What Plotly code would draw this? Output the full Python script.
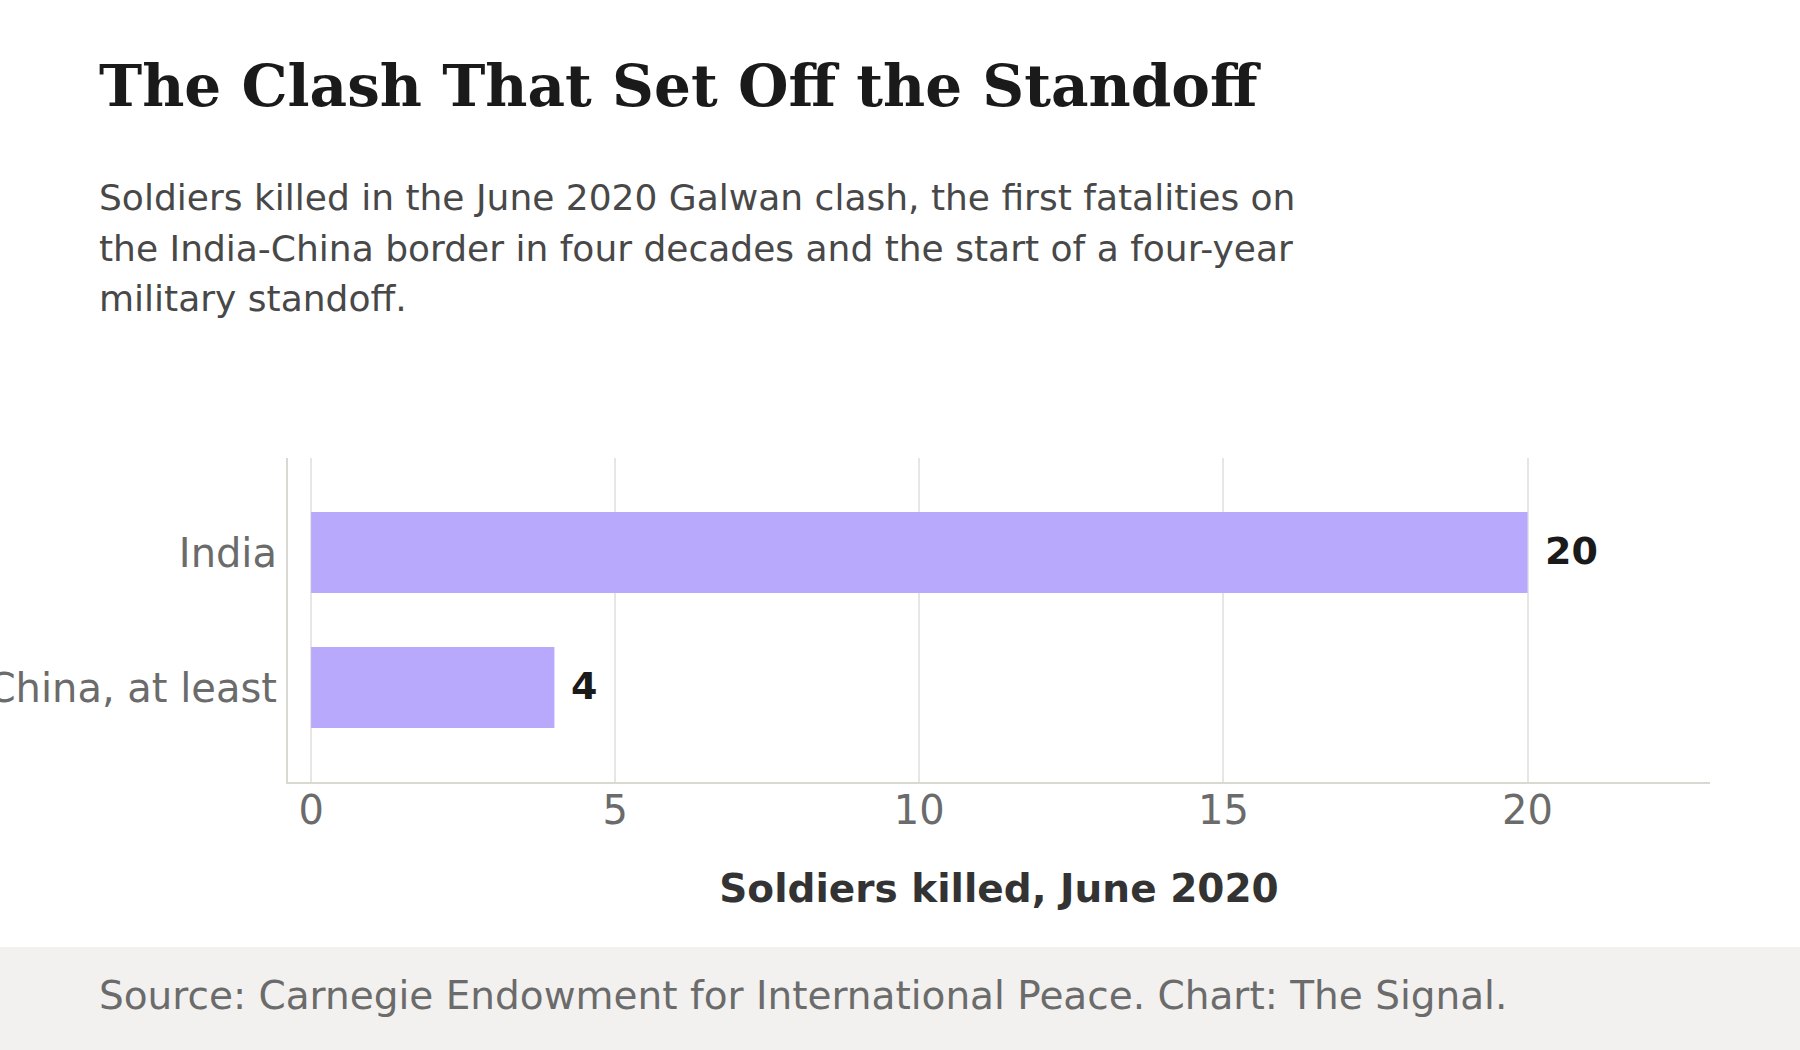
import plotly.graph_objects as go

# datos
countries = ['China, at least', 'India']
soldiers_killed = [4, 20]
x_ticks = [0, 5, 10, 15, 20]

title_text = 'The Clash That Set Off the Standoff'
subtitle_lines = [
    'Soldiers killed in the June 2020 Galwan clash, the first fatalities on',
    'the India-China border in four decades and the start of a four-year',
    'military standoff.',
]
source_text = 'Source: Carnegie Endowment for International Peace. Chart: The Signal.'

W, H = 1800, 1050
L, R, T, B = 288, 90, 458, 268
plot_w = W - L - R
plot_h = H - T - B


def px_x(px):
    return (px - L) / plot_w


def px_y(py):
    return (H - B - py) / plot_h


SANS = 'DejaVu Sans'

fig = go.Figure()

fig.add_trace(go.Bar(
    x=soldiers_killed,
    y=countries,
    orientation='h',
    width=0.6,
    marker=dict(color='#b8a9fc', line=dict(width=0)),
    hoverinfo='skip',
))

# etiquetas de valor
for c, v in zip(countries, soldiers_killed):
    fig.add_annotation(
        x=v, y=c, xref='x', yref='y',
        text=f'<b>{v}</b>', showarrow=False,
        xanchor='left', yanchor='middle', xshift=15, yshift=2,
        font=dict(family=SANS, size=38, color='#1a1a1a'),
    )

# título y subtítulo
fig.add_annotation(
    x=px_x(97), y=px_y(86), xref='paper', yref='paper',
    text=f'<b>{title_text}</b>', showarrow=False,
    xanchor='left', yanchor='middle',
    font=dict(family='DejaVu Serif', size=58, color='#1a1a1a'),
)
for i, line in enumerate(subtitle_lines):
    fig.add_annotation(
        x=px_x(97), y=px_y(197.5 + i * 50.5), xref='paper', yref='paper',
        text=line, showarrow=False,
        xanchor='left', yanchor='middle',
        font=dict(family=SANS, size=36, color='#484848'),
    )

# pie de fuente
fig.add_shape(
    type='rect', xref='paper', yref='paper',
    x0=px_x(-20), x1=px_x(W + 20), y0=px_y(947), y1=px_y(H + 20),
    fillcolor='#f2f1ef', line=dict(width=0), layer='below',
)
fig.add_annotation(
    x=px_x(97), y=px_y(995), xref='paper', yref='paper',
    text=source_text, showarrow=False,
    xanchor='left', yanchor='middle',
    font=dict(family=SANS, size=39, color='#6b6b6b'),
)

fig.update_layout(
    width=W, height=H,
    margin=dict(l=L, r=R, t=T, b=B, autoexpand=False),
    paper_bgcolor='white',
    plot_bgcolor='white',
    showlegend=False,
    bargap=0.4,
    xaxis=dict(
        range=[-0.38, 23],
        tickvals=x_ticks,
        showgrid=True, gridcolor='#e6e6e3', gridwidth=1.5,
        zeroline=False,
        showline=True, linecolor='#d9d9d4', linewidth=2,
        ticks='', ticklabelstandoff=-8,
        tickfont=dict(family=SANS, size=40, color='#6b6b6b'),
        title=dict(
            text='<b>Soldiers killed, June 2020</b>',
            font=dict(family=SANS, size=39, color='#333333'),
            standoff=43,
        ),
        fixedrange=True,
    ),
    yaxis=dict(
        range=[-0.7, 1.7],
        showgrid=False, zeroline=False,
        showline=True, linecolor='#d9d9d4', linewidth=2,
        ticks='', ticklabelstandoff=1,
        tickfont=dict(family=SANS, size=40, color='#6b6b6b'),
        fixedrange=True,
    ),
)

fig.write_html('out.html', config={'displayModeBar': False},
               post_script="document.body.style.margin='0';")
